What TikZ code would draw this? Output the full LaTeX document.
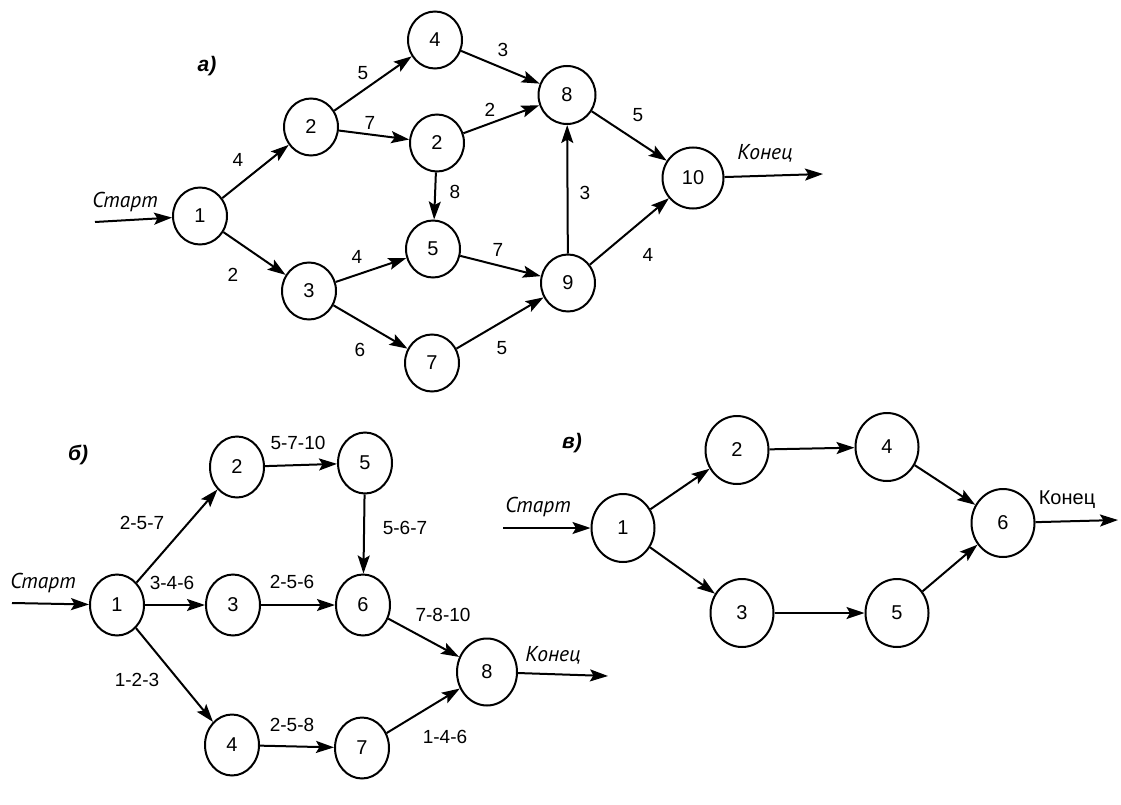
\documentclass[tikz,border=0pt]{standalone}
\usepackage{fontspec}
\setmainfont{Liberation Sans}
\newfontfamily\ptfont{PT Sans}
\usetikzlibrary{shapes.geometric,arrows.meta}
\begin{document}
\begin{tikzpicture}[x=1pt,y=-1pt,
  nd/.style={draw, ellipse, line width=2pt, inner sep=0pt, minimum width=54pt, minimum height=57pt, font=\fontsize{20}{22}\selectfont},
  ndb/.style={nd, minimum width=54pt, minimum height=61pt},
  ndc/.style={nd, minimum width=63pt, minimum height=68pt},
  ar/.style={line width=2pt, -{Stealth[length=18pt,width=12pt,inset=3.5pt]}},
  lb/.style={font=\fontsize{19}{20}\selectfont, inner sep=0pt},
  tl/.style={font=\ptfont\itshape\fontsize{21.5}{22}\selectfont, inner sep=0pt},
  hd/.style={font=\bfseries\itshape\fontsize{21}{22}\selectfont, inner sep=0pt}
]
\useasboundingbox (0,0) rectangle (1121,805);
% ---------- part a ----------
\node[hd] (ha) at (207,66) {а)};
\node[nd] (a1) at (200,216) {1};
\node[nd] (a2) at (311,127) {2};
\node[nd] (a4) at (435,40) {4};
\node[nd] (a2b) at (437,143) {2};
\node[nd, minimum width=57pt, minimum height=58pt] (a8) at (567,95) {8};
\node[nd, minimum width=61pt, minimum height=61pt] (a10) at (693,178) {10};
\node[nd] (a5) at (433,249) {5};
\node[nd] (a9) at (568,283) {9};
\node[nd] (a3) at (309,291) {3};
\node[nd] (a7) at (432,363) {7};
\coordinate (as) at (95,222);
\coordinate (ae) at (823,174);
\draw[ar] (as) -- (a1);
\draw[ar] (a1) -- (a2);
\draw[ar] (a1) -- (a3);
\draw[ar] (a2) -- (a4);
\draw[ar] (a2) -- (a2b);
\draw[ar] (a4) -- (a8);
\draw[ar] (a2b) -- (a8);
\draw[ar] (a2b) -- (a5);
\draw[ar] (a3) -- (a5);
\draw[ar] (a3) -- (a7);
\draw[ar] (a5) -- (a9);
\draw[ar] (a7) -- (a9);
\draw[ar] (a9) -- (a8);
\draw[ar] (a8) -- (a10);
\draw[ar] (a9) -- (a10);
\draw[ar] (a10) -- (ae);
\node[tl] (ts) at (125,202) {Старт};
\node[tl] (te) at (765,153) {Конец};
\node[lb] (l1) at (238,160) {4};
\node[lb] (l2) at (233,275) {2};
\node[lb] (l3) at (363,73) {5};
\node[lb] (l4) at (370,123) {7};
\node[lb] (l5) at (455,192) {8};
\node[lb] (l6) at (357,257) {4};
\node[lb] (l7) at (360,350) {6};
\node[lb] (l8) at (503,50) {3};
\node[lb] (l9) at (490,110) {2};
\node[lb] (l10) at (638,115) {5};
\node[lb] (l11) at (585,193) {3};
\node[lb] (l12) at (498,250) {7};
\node[lb] (l13) at (648,255) {4};
\node[lb] (l14) at (502,348) {5};
% ---------- part b ----------
\node[hd] (hb) at (78,455) {б)};
\node[ndb] (b1) at (117,605) {1};
\node[ndb] (b2) at (237,467) {2};
\node[ndb] (b5) at (365,463) {5};
\node[ndb] (b3) at (233,605) {3};
\node[ndb] (b6) at (363,605) {6};
\node[ndb] (b4) at (232,745) {4};
\node[ndb] (b7) at (362,748) {7};
\node[nd, minimum width=60pt, minimum height=67pt] (b8) at (487,672) {8};
\coordinate (bs) at (12,603);
\coordinate (be) at (608,676);
\draw[ar] (bs) -- (b1);
\draw[ar] (b1) -- (b2);
\draw[ar] (b1) -- (b3);
\draw[ar] (b1) -- (b4);
\draw[ar] (b2) -- (b5);
\draw[ar] (b3) -- (b6);
\draw[ar] (b5) -- (b6);
\draw[ar] (b4) -- (b7);
\draw[ar] (b6) -- (b8);
\draw[ar] (b7) -- (b8);
\draw[ar] (b8) -- (be);
\node[tl] (bts) at (43,583) {Старт};
\node[tl] (bte) at (553,655) {Конец};
\node[lb] (m1) at (142,523) {2-5-7};
\node[lb] (m2) at (172,583) {3-4-6};
\node[lb] (m3) at (137,680) {1-2-3};
\node[lb] (m4) at (298,443) {5-7-10};
\node[lb] (m5) at (292,582) {2-5-6};
\node[lb] (m6) at (292,725) {2-5-8};
\node[lb] (m7) at (405,528) {5-6-7};
\node[lb] (m8) at (443,615) {7-8-10};
\node[lb] (m9) at (445,737) {1-4-6};
% ---------- part v ----------
\node[hd] (hc) at (572,443) {в)};
\node[ndc] (c1) at (623,528) {1};
\node[ndc] (c2) at (737,450) {2};
\node[ndc] (c3) at (742,613) {3};
\node[ndc] (c4) at (887,447) {4};
\node[ndc] (c5) at (897,613) {5};
\node[ndc] (c6) at (1003,523) {6};
\coordinate (cs) at (503,528);
\coordinate (ce) at (1118,520);
\draw[ar] (cs) -- (c1);
\draw[ar] (c1) -- (c2);
\draw[ar] (c1) -- (c3);
\draw[ar] (c2) -- (c4);
\draw[ar] (c3) -- (c5);
\draw[ar] (c4) -- (c6);
\draw[ar] (c5) -- (c6);
\draw[ar] (c6) -- (ce);
\node[tl] (cts) at (538,507) {Старт};
\node[font=\fontsize{20}{22}\selectfont, inner sep=0pt] (cte) at (1067,500) {Конец};
\end{tikzpicture}
\end{document}
